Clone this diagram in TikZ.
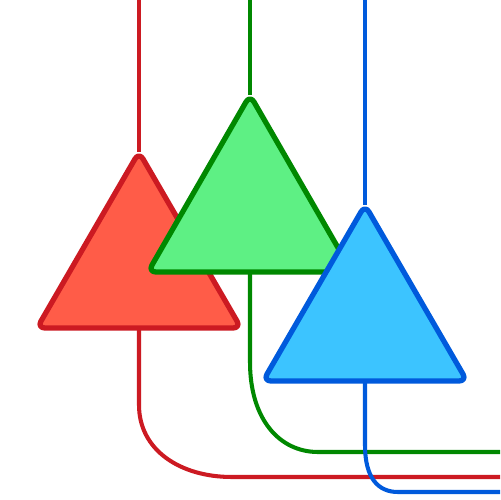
\documentclass[tikz,border=0pt]{standalone}
\begin{document}
\begin{tikzpicture}[x=0.02cm,y=-0.02cm,
  tri/.style={line width=3pt,rounded corners=4.5pt,line join=round},
  wire/.style={line width=2.3pt}]
\definecolor{rfill}{HTML}{FF5C48}\definecolor{rline}{HTML}{CC1A22}
\definecolor{gfill}{HTML}{5EF084}\definecolor{gline}{HTML}{008800}
\definecolor{bfill}{HTML}{3CC4FF}\definecolor{bline}{HTML}{005ADC}
\useasboundingbox[fill=white] (0,0) rectangle (500,500);
% red
\coordinate (rtop) at (139,0);
\coordinate (rapex) at (139,152);
\coordinate (rbase) at (139,328);
\coordinate (rbend) at (139,405);
\coordinate (rturn) at (232,477);
\coordinate (rend) at (500,477);
\draw[wire,rline] (rtop) -- (rapex);
\draw[wire,rline] (rbase) -- (rbend) .. controls (139,450) and (180,477) .. (rturn) -- (rend);
\draw[tri,draw=rline,fill=rfill] (rapex) -- (37,328) -- (241,328) -- cycle;
% green
\coordinate (gtop) at (250,0);
\coordinate (gapex) at (250,95);
\coordinate (gbase) at (250,272);
\coordinate (gbend) at (250,362);
\coordinate (gturn) at (318,452);
\coordinate (gend) at (500,452);
\draw[wire,gline] (gtop) -- (gapex);
\draw[wire,gline] (gbase) -- (gbend) .. controls (250,420) and (280,452) .. (gturn) -- (gend);
\draw[tri,draw=gline,fill=gfill] (gapex) -- (148,272) -- (352,272) -- cycle;
% blue
\coordinate (btop) at (365,0);
\coordinate (bapex) at (365,205);
\coordinate (bbase) at (365,381);
\coordinate (bbend) at (365,445);
\coordinate (bturn) at (398,492);
\coordinate (bend) at (500,492);
\draw[wire,bline] (btop) -- (bapex);
\draw[wire,bline] (bbase) -- (bbend) .. controls (365,478) and (378,492) .. (bturn) -- (bend);
\draw[tri,draw=bline,fill=bfill] (bapex) -- (263,381) -- (467,381) -- cycle;
\end{tikzpicture}
\end{document}
